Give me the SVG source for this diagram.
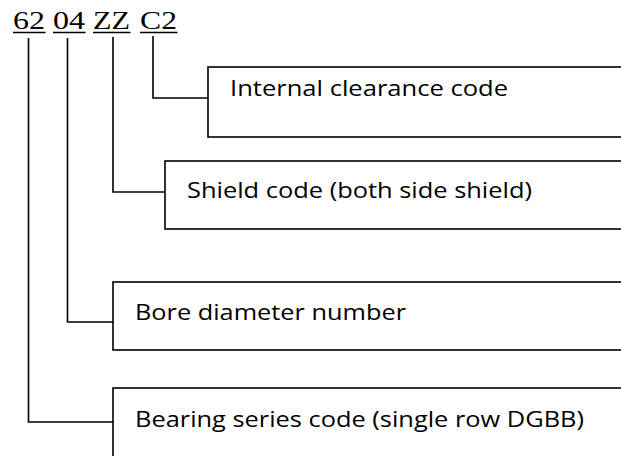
<svg xmlns="http://www.w3.org/2000/svg" width="621" height="456" viewBox="0 0 621 456">
  <style>
    .code { font-family: "Liberation Serif", "Times New Roman", serif; font-size: 25px; fill: #000; }
    .ul { stroke: #000; stroke-width: 1.5; }
    .box { fill: #fff; stroke: #000; stroke-width: 1.6; }
    .label { font-family: "Open Sans", "Noto Sans", "DejaVu Sans", sans-serif; font-size: 22px; fill: #000; }
    .wire { fill: none; stroke: #000; stroke-width: 1.6; }
  </style>
  <rect width="621" height="456" fill="#fff"/>

  <!-- Designation: 62 04 ZZ C2, each part underlined -->
  <g id="designation">
    <text class="code" x="13" y="28.5" textLength="32" lengthAdjust="spacingAndGlyphs">62</text>
    <text class="code" x="53" y="28.5" textLength="32" lengthAdjust="spacingAndGlyphs">04</text>
    <text class="code" x="93" y="28.5" textLength="37" lengthAdjust="spacingAndGlyphs">ZZ</text>
    <text class="code" x="140" y="28.5" textLength="37" lengthAdjust="spacingAndGlyphs">C2</text>
    <line class="ul" x1="13" y1="32.5" x2="45.5" y2="32.5"/>
    <line class="ul" x1="53" y1="32.5" x2="85.5" y2="32.5"/>
    <line class="ul" x1="93" y1="32.5" x2="130.5" y2="32.5"/>
    <line class="ul" x1="140" y1="32.5" x2="177.5" y2="32.5"/>
  </g>

  <!-- Leader lines from each part to its description -->
  <g id="connectors">
    <polyline class="wire" points="153,36 153,98 208,98"/>
    <polyline class="wire" points="113,37 113,192 165,192"/>
    <polyline class="wire" points="67.5,38 67.5,322 113,322"/>
    <polyline class="wire" points="28.5,38 28.5,422 113,422"/>
  </g>

  <g id="clearance">
    <rect class="box" x="208" y="67" width="430" height="70"/>
    <text class="label" x="230" y="96" textLength="278" lengthAdjust="spacingAndGlyphs">Internal clearance code</text>
  </g>

  <g id="shield">
    <rect class="box" x="165" y="161" width="470" height="68"/>
    <text class="label" x="187" y="198" textLength="345" lengthAdjust="spacingAndGlyphs">Shield code (both side shield)</text>
  </g>

  <g id="bore">
    <rect class="box" x="113" y="282" width="520" height="68"/>
    <text class="label" x="135" y="320" textLength="271" lengthAdjust="spacingAndGlyphs">Bore diameter number</text>
  </g>

  <g id="series">
    <rect class="box" x="113" y="388" width="520" height="90"/>
    <text class="label" x="135" y="427" textLength="449" lengthAdjust="spacingAndGlyphs">Bearing series code (single row DGBB)</text>
  </g>
</svg>
